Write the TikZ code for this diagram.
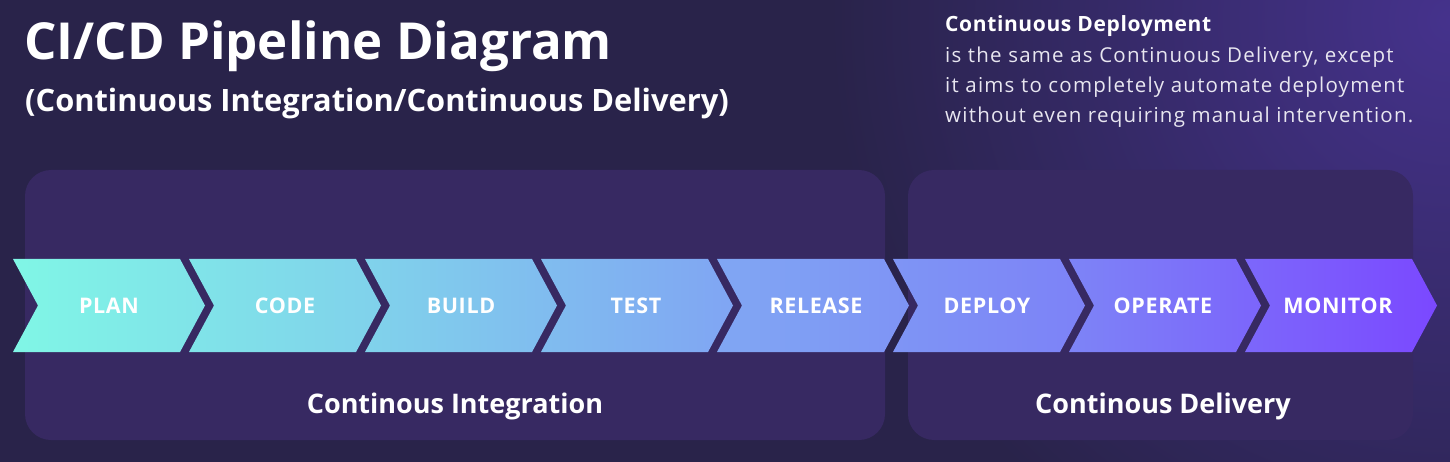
\documentclass[tikz,border=0pt]{standalone}
\usepackage{fontspec}
\setmainfont{Open Sans}
\newfontfamily\bodyfont[LetterSpace=6]{Open Sans}
\newfontfamily\headfont[LetterSpace=3]{Open Sans}
\newfontfamily\stepfont[LetterSpace=3]{Open Sans}
\usetikzlibrary{shadings}
\definecolor{bgdark}{HTML}{29234A}
\definecolor{bgglow}{HTML}{45328C}
\definecolor{panel}{HTML}{372962}
\definecolor{bodytxt}{HTML}{E8E6F0}
\definecolor{c0}{HTML}{80F6E6}
\definecolor{c1}{HTML}{80D2EB}
\definecolor{c2}{HTML}{80A6F3}
\definecolor{c3}{HTML}{7D82F7}
\definecolor{c4}{HTML}{7B48FF}
\pgfdeclarehorizontalshading{pipe}{100bp}{color(0bp)=(c0); color(25bp)=(c0); color(37.5bp)=(c1); color(50bp)=(c2); color(62.5bp)=(c3); color(75bp)=(c4); color(100bp)=(c4)}
\tikzset{
  paneltxt/.style={text=white, font=\fontsize{27}{30}\selectfont\bfseries, anchor=base},
  steptxt/.style={text=white, font=\stepfont\fontsize{21.5}{24}\selectfont\bfseries, anchor=base},
  panelbox/.style={fill=panel, rounded corners=26},
  bodyline/.style={anchor=base west, inner sep=0, text=bodytxt, font=\bodyfont\fontsize{20.5}{22}\selectfont},
}
\begin{document}
\begin{tikzpicture}[x=1pt,y=-1pt]
\useasboundingbox (0,0) rectangle (1450,462);
\fill[bgdark] (0,0) rectangle (1450,462);
\begin{scope}
\clip (0,0) rectangle (1450,462);
\shade[inner color=bgglow, outer color=bgdark] (1450,20) circle (620);
\end{scope}
% panels
\fill[panelbox] (25,170) rectangle (885,440);
\fill[panelbox] (908,170) rectangle (1413,440);
% chevrons
\shade[shading=pipe]
  \foreach \s in {13,189,365,541,717,893,1069,1245}{
    (\s,259) -- (\s+167,259) -- (\s+192,305.5) -- (\s+167,352) -- (\s,352) -- (\s+25,305.5) -- cycle
  };
% labels
\node[steptxt] (plan) at (109,313) {PLAN};
\node[steptxt] (code) at (285,313) {CODE};
\node[steptxt] (build) at (461,313) {BUILD};
\node[steptxt] (test) at (636,313) {TEST};
\node[steptxt] (release) at (816,313) {RELEASE};
\node[steptxt] (deploy) at (987,313) {DEPLOY};
\node[steptxt] (operate) at (1163,313) {OPERATE};
\node[steptxt] (monitor) at (1338,313) {MONITOR};
\node[paneltxt] (ci) at (455,413) {Continous Integration};
\node[paneltxt] (cd) at (1163,413) {Continous Delivery};
% titles
\node[anchor=base west, inner sep=0, text=white, font=\fontsize{51}{56}\selectfont\bfseries] (title) at (24,60) {CI/CD Pipeline Diagram};
\node[anchor=base west, inner sep=0, text=white, font=\fontsize{30.8}{36}\selectfont\bfseries] (subtitle) at (25,112) {(Continuous Integration/Continuous Delivery)};
\node[anchor=base west, inner sep=0, text=white, font=\headfont\fontsize{21}{22}\selectfont\bfseries] (cdhead) at (945,32) {Continuous Deployment};
\node[bodyline] (l1) at (945,63) {is the same as Continuous Delivery, except};
\node[bodyline] (l2) at (945,93) {it aims to completely automate deployment};
\node[bodyline] (l3) at (945,123) {without even requiring manual intervention.};
\end{tikzpicture}
\end{document}
